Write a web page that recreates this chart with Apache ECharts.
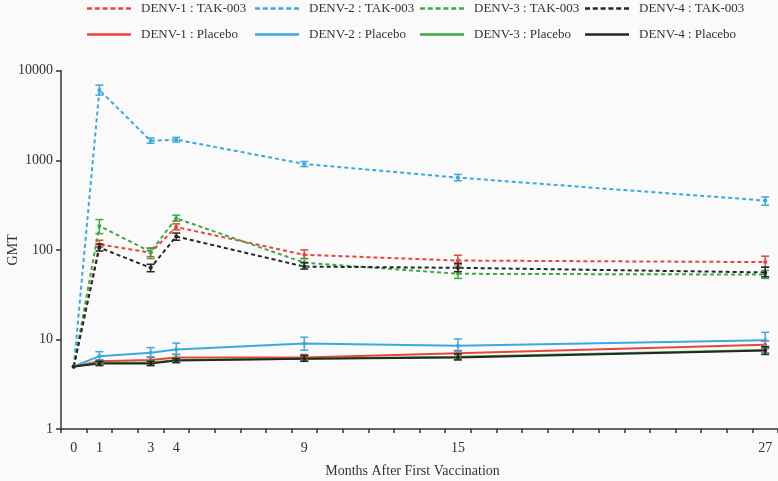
<!DOCTYPE html>
<html>
<head>
<meta charset="utf-8">
<script src="https://cdn.jsdelivr.net/npm/echarts@6/dist/echarts.min.js"></script>
<style>html,body{margin:0;padding:0;background:#fafafa;}#c{width:778px;height:481px;}</style>
</head>
<body>
<div id="c"></div>
<script>
const months = [0, 1, 3, 4, 9, 15, 27];
const xLabels = [0, 1, 3, 4, 9, 15, 27];
const yTicks = [1, 10, 100, 1000, 10000];

const tak1 = [5, 115, 93, 180, 88, 76, 73];
const tak2 = [5, 6100, 1650, 1700, 910, 640, 355];
const tak3 = [5, 185, 95, 225, 72, 54, 53];
const tak4 = [5, 106, 63, 141, 65, 63, 56];
const pla1 = [5, 5.7, 5.9, 6.3, 6.3, 7.0, 8.7];
const pla2 = [5, 6.5, 7.1, 7.7, 9.0, 8.5, 9.8];
const pla3 = [5, 5.5, 5.5, 5.9, 6.1, 6.4, 7.6];
const pla4 = [5, 5.4, 5.4, 5.8, 6.1, 6.3, 7.5];

const tak1Lo = [5, 108, 84, 167, 80, 68, 64];
const tak1Hi = [5, 128, 105, 195, 100, 87, 85];
const tak2Lo = [5, 5340, 1550, 1600, 850, 590, 315];
const tak2Hi = [5, 6900, 1770, 1800, 970, 695, 390];
const tak3Lo = [5, 152, 80, 209, 66, 48, 48];
const tak3Hi = [5, 218, 104, 244, 80, 62, 59];
const tak4Lo = [5, 97, 57, 128, 61, 57, 50];
const tak4Hi = [5, 116, 69, 154, 72, 71, 64];
const pla1Lo = [5, 5.4, 5.6, 6.0, 5.9, 6.5, 7.9];
const pla1Hi = [5, 5.9, 6.3, 6.8, 6.8, 7.5, 9.6];
const pla2Lo = [5, 5.9, 6.4, 6.8, 7.6, 7.3, 8.3];
const pla2Hi = [5, 7.3, 8.1, 9.1, 10.6, 10.1, 12.0];
const pla3Lo = [5, 5.2, 5.2, 5.6, 5.7, 6.0, 7.1];
const pla3Hi = [5, 5.8, 5.8, 6.2, 6.5, 6.8, 8.1];
const pla4Lo = [5, 5.1, 5.1, 5.5, 5.7, 5.9, 6.8];
const pla4Hi = [5, 5.7, 5.7, 6.1, 6.6, 6.9, 8.3];

const names = ['DENV-1 : TAK-003', 'DENV-2 : TAK-003', 'DENV-3 : TAK-003', 'DENV-4 : TAK-003',
               'DENV-1 : Placebo', 'DENV-2 : Placebo', 'DENV-3 : Placebo', 'DENV-4 : Placebo'];
const colors = ['#e8453c', '#3ca9e0', '#3daa49', '#262626'];

const FONT = 'Liberation Serif';
const groups = [
  [tak1, tak1Lo, tak1Hi], [tak2, tak2Lo, tak2Hi], [tak3, tak3Lo, tak3Hi], [tak4, tak4Lo, tak4Hi],
  [pla1, pla1Lo, pla1Hi], [pla2, pla2Lo, pla2Hi], [pla3, pla3Lo, pla3Hi], [pla4, pla4Lo, pla4Hi]
];

const DASH_ICON = 'path://M0,0h5v2h-5z M7.8,0h5v2h-5z M15.6,0h5v2h-5z M23.4,0h5v2h-5z M31.2,0h5v2h-5z M39,0h5v2h-5z';
const SOLID_ICON = 'path://M0,0h44v2h-44z';

const series = [];
groups.forEach((g, i) => {
  const color = colors[i % 4];
  const dashed = i < 4;
  series.push({
    name: names[i],
    type: 'line',
    symbol: 'none',
    data: months.map((m, k) => [m, g[0][k]]),
    lineStyle: { color: color, width: 2, type: dashed ? [4, 3] : 'solid' },
    itemStyle: { color: color },
    z: dashed ? 2 : 3
  });
  series.push({
    name: names[i] + ' err',
    type: 'custom',
    data: months.map((m, k) => [m, g[0][k], g[1][k], g[2][k]]),
    encode: { x: 0, y: [1, 2, 3] },
    z: dashed ? 4 : 5,
    renderItem: function (params, api) {
      const x = api.value(0);
      const p = api.coord([x, api.value(1)]);
      const lo = api.coord([x, api.value(2)]);
      const hi = api.coord([x, api.value(3)]);
      const st = { stroke: color, lineWidth: 1.5, fill: null };
      const children = [{ type: 'circle', shape: { cx: p[0], cy: p[1], r: 2 }, style: { fill: color } }];
      if (api.value(2) !== api.value(3)) {
        const w = 4;
        children.push({ type: 'line', shape: { x1: lo[0], y1: lo[1], x2: hi[0], y2: hi[1] }, style: st });
        children.push({ type: 'line', shape: { x1: hi[0] - w, y1: hi[1], x2: hi[0] + w, y2: hi[1] }, style: st });
        children.push({ type: 'line', shape: { x1: lo[0] - w, y1: lo[1], x2: lo[0] + w, y2: lo[1] }, style: st });
      }
      return { type: 'group', children: children };
    }
  });
});

const legendLeft = [87, 255, 420, 585];
const legendTop = [2, 28];
const legends = names.map((n, i) => ({
  data: [{ name: n, icon: i < 4 ? DASH_ICON : SOLID_ICON }],
  left: legendLeft[i % 4],
  top: legendTop[Math.floor(i / 4)],
  padding: 0,
  itemWidth: 44,
  itemHeight: 2.5,
  symbolKeepAspect: false,
  selectedMode: false,
  textStyle: { fontFamily: FONT, fontSize: 13, color: '#333', padding: [0, 0, 0, 5] }
}));

const chart = echarts.init(document.getElementById('c'));
chart.setOption({
  backgroundColor: '#fafafa',
  animation: false,
  legend: legends,
  grid: { left: 61, right: 0, top: 70.7, bottom: 52, containLabel: false, outerBoundsMode: 'none' },
  xAxis: {
    type: 'value',
    min: -0.5,
    max: 27.5,
    interval: 1,
    name: 'Months After First Vaccination',
    nameLocation: 'middle',
    nameGap: 35,
    nameMoveOverlap: false,
    nameTextStyle: { fontFamily: FONT, fontSize: 14, color: '#333', padding: [0, 14, 0, 0] },
    splitLine: { show: false },
    axisLine: { onZero: false, lineStyle: { color: '#333', width: 1.5 } },
    axisTick: { show: true, length: 4, lineStyle: { color: '#333', width: 1.5 } },
    axisLabel: {
      customValues: xLabels,
      fontFamily: FONT, fontSize: 14, color: '#333', margin: 12
    }
  },
  yAxis: {
    type: 'log',
    logBase: 10,
    min: 1,
    max: 10000,
    name: 'GMT',
    nameLocation: 'middle',
    nameGap: 41,
    nameMoveOverlap: false,
    nameTextStyle: { fontFamily: FONT, fontSize: 14, color: '#333' },
    splitLine: { show: false },
    axisLine: { show: true, onZero: false, lineStyle: { color: '#333', width: 1.5 } },
    axisTick: { show: true, length: 5, lineStyle: { color: '#333', width: 1.5 } },
    minorTick: { show: false },
    axisLabel: {
      customValues: yTicks,
      formatter: function (v) { return String(Math.round(v)); },
      fontFamily: FONT, fontSize: 14, color: '#333', margin: 8
    }
  },
  series: series
});
</script>
</body>
</html>
